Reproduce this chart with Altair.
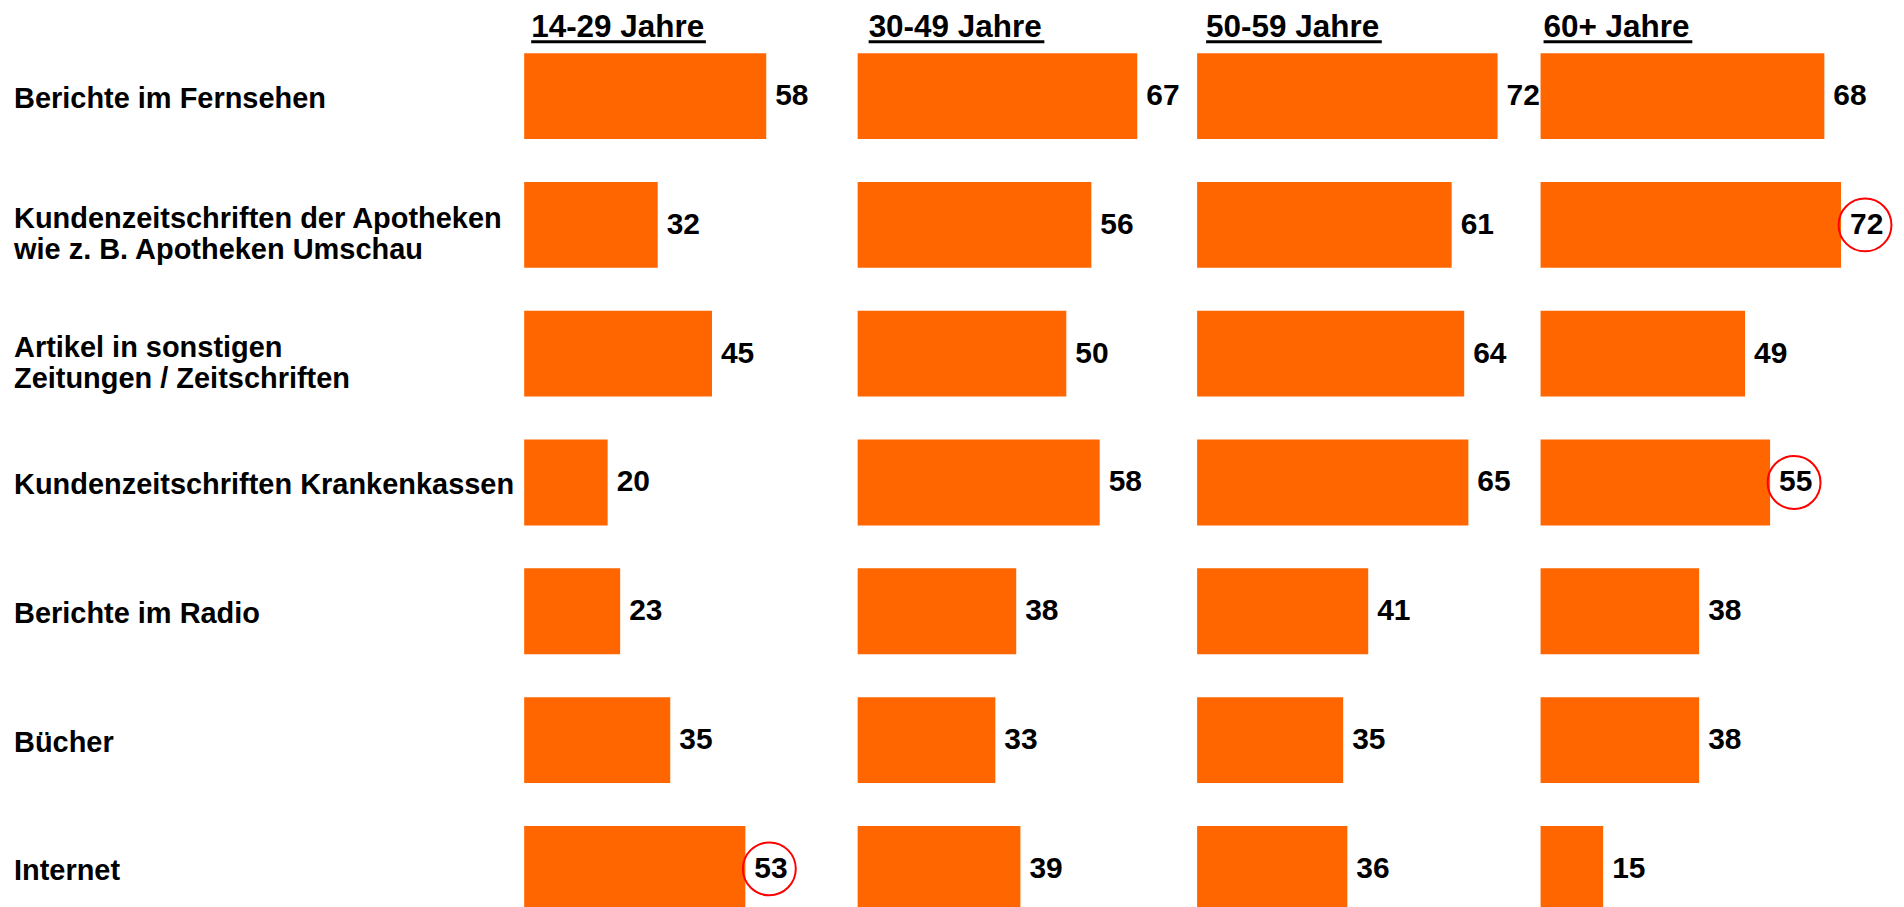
import altair as alt
import pandas as pd

# ---------------- data ----------------
groups = ["14-29 Jahre", "30-49 Jahre", "50-59 Jahre", "60+ Jahre"]
categories = [
    "Berichte im Fernsehen",
    "Kundenzeitschriften der Apotheken\nwie z. B. Apotheken Umschau",
    "Artikel in sonstigen\nZeitungen / Zeitschriften",
    "Kundenzeitschriften Krankenkassen",
    "Berichte im Radio",
    "Bücher",
    "Internet",
]
values_14_29 = [58, 32, 45, 20, 23, 35, 53]
values_30_49 = [67, 56, 50, 58, 38, 33, 39]
values_50_59 = [72, 61, 64, 65, 41, 35, 36]
values_60plus = [68, 72, 49, 55, 38, 38, 15]
highlighted = [
    ("14-29 Jahre", "Internet"),
    ("60+ Jahre", "Kundenzeitschriften der Apotheken\nwie z. B. Apotheken Umschau"),
    ("60+ Jahre", "Kundenzeitschriften Krankenkassen"),
]

series = [values_14_29, values_30_49, values_50_59, values_60plus]
rows = []
for g, vals in zip(groups, series):
    for c, v in zip(categories, vals):
        rows.append({"group": g, "cat": c, "value": v,
                     "hl": (g, c) in highlighted,
                     "nlines": c.count("\n") + 1})
df = pd.DataFrame(rows)

# ---------------- style ----------------
ORANGE = "#FF6600"
FONT = "Liberation Sans"
PX_PER_UNIT = 4.18
panel_widths = [334, 340, 343.5, 340]
header_dx = [7, 11, 9, 3]
underline_w = [175, 176, 176, 149]
STEP = 129
H = STEP * len(categories)

y_enc = alt.Y("cat:N", sort=categories, axis=None,
              scale=alt.Scale(paddingInner=1 / 3, paddingOuter=1 / 6))


def panel(i, g):
    d = df[df.group == g]
    base = alt.Chart(d)
    x_enc = alt.X("value:Q", axis=None,
                  scale=alt.Scale(domain=[0, panel_widths[i] / PX_PER_UNIT], nice=False))
    bars = base.mark_bar(color=ORANGE).encode(x=x_enc, y=y_enc)
    labels = base.mark_text(align="left", baseline="middle", dx=9, font=FONT,
                            fontSize=30, fontWeight="bold", color="black").encode(
        x=x_enc, y=y_enc, text="value:Q")
    circles = base.transform_filter("datum.hl").mark_point(
        shape="circle", size=53 * 53, filled=False, stroke="#FF0000",
        strokeWidth=2, xOffset=24, opacity=1).encode(x=x_enc, y=y_enc)
    hdr_df = pd.DataFrame({"group": [g]})
    header = alt.Chart(hdr_df).mark_text(
        align="left", baseline="alphabetic", font=FONT, fontSize=31.5,
        fontWeight="bold", color="black").encode(
        x=alt.value(header_dx[i]), y=alt.value(5.0), text="group:N")
    underline = alt.Chart(hdr_df).mark_rule(color="black", strokeWidth=3).encode(
        x=alt.value(header_dx[i]), x2=alt.value(header_dx[i] + underline_w[i]),
        y=alt.value(10.0))
    layers = [bars, labels, circles, header, underline]
    if i == 0:
        single = base.transform_filter("datum.nlines == 1").mark_text(
            align="left", baseline="middle", dy=2.5, font=FONT, fontSize=29,
            fontWeight="bold", color="black").encode(
            x=alt.value(-511), y=y_enc, text="cat:N")
        double = base.transform_filter("datum.nlines > 1").mark_text(
            align="left", baseline="middle", dy=-6, font=FONT, fontSize=29,
            fontWeight="bold", color="black", lineBreak="\n", lineHeight=31).encode(
            x=alt.value(-511), y=y_enc, text="cat:N")
        layers += [single, double]
    return alt.layer(*layers).properties(width=panel_widths[i], height=H)


chart = alt.hconcat(*[panel(i, g) for i, g in enumerate(groups)],
                    spacing=0, bounds="flush").properties(
    padding={"left": 6, "top": 3, "right": 0, "bottom": 0}
).configure(background="white").configure_view(stroke=None)

chart.save("out.html", embed_options={"renderer": "svg", "actions": False})
